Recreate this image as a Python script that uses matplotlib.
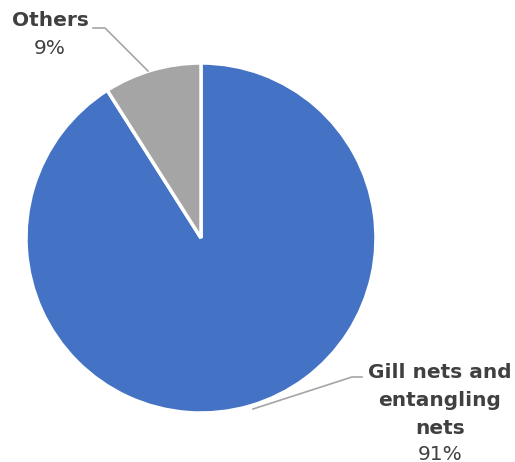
import matplotlib.pyplot as plt

# gear categories and their share of the catch
labels = ['Gill nets and\nentangling\nnets', 'Others']
shares = [91, 9]
colors = ['#4472C4', '#A5A5A5']

W, H = 515, 462
fig = plt.figure(figsize=(W / 100, H / 100), dpi=100)
ax = fig.add_axes([0, 0, 1, 1])

cx, cy, r = 201, H - 238, 175
ax.pie(shares, colors=colors, startangle=90, counterclock=False,
       center=(cx, cy), radius=r, frame=True,
       wedgeprops=dict(edgecolor='white', linewidth=2.5))
ax.set_xlim(0, W)
ax.set_ylim(0, H)
ax.axis('off')

txt = '#404040'
fs = 14.5
# leader lines
ax.plot([93, 105, 148], [H - 28, H - 28, H - 71], color='#A5A5A5', lw=1.2)
ax.plot([253, 352, 362], [H - 409, H - 377, H - 377], color='#A5A5A5', lw=1.2)

ax.text(50, H - 21, labels[1], ha='center', va='center', fontsize=fs,
        fontweight='bold', color=txt)
ax.text(50, H - 48, f'{shares[1]}%', ha='center', va='center', fontsize=fs,
        color=txt)
ax.text(440, H - 400, labels[0], ha='center', va='center', fontsize=fs,
        fontweight='bold', color=txt, linespacing=1.6)
ax.text(440, H - 454, f'{shares[0]}%', ha='center', va='center', fontsize=fs,
        color=txt)

fig.savefig('out.png', dpi=100)
